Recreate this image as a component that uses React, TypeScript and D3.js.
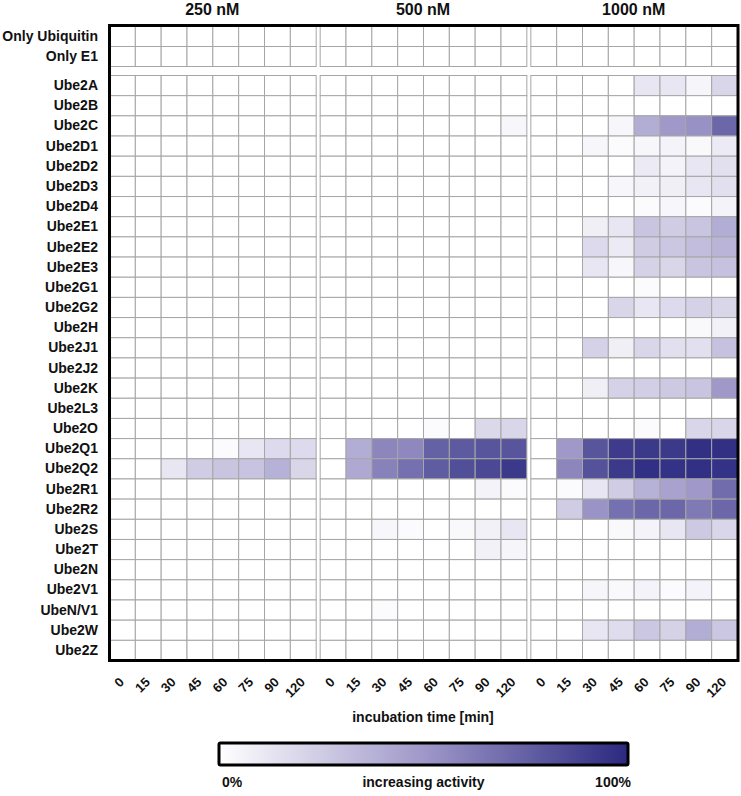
import React from "react";
import * as d3 from "d3";

const concentrations = ["250 nM", "500 nM", "1000 nM"];
const times = ["0", "15", "30", "45", "60", "75", "90", "120"];
const controlRows = ["Only Ubiquitin", "Only E1"];
const enzymeRows = [
  "Ube2A", "Ube2B", "Ube2C", "Ube2D1", "Ube2D2", "Ube2D3", "Ube2D4", "Ube2E1", "Ube2E2", "Ube2E3",
  "Ube2G1", "Ube2G2", "Ube2H", "Ube2J1", "Ube2J2", "Ube2K", "Ube2L3", "Ube2O", "Ube2Q1", "Ube2Q2",
  "Ube2R1", "Ube2R2", "Ube2S", "Ube2T", "Ube2N", "Ube2V1", "UbeN/V1", "Ube2W", "Ube2Z",
];

// activity (0..1) per enzyme row, columns = times
const activity250: number[][] = [
  [0, 0, 0, 0, 0, 0, 0, 0], // 2A
  [0, 0, 0, 0, 0, 0, 0, 0], // 2B
  [0, 0, 0, 0, 0, 0, 0, 0], // 2C
  [0, 0, 0, 0, 0, 0, 0, 0], // 2D1
  [0, 0, 0, 0, 0, 0, 0, 0], // 2D2
  [0, 0, 0, 0, 0, 0, 0, 0], // 2D3
  [0, 0, 0, 0, 0, 0, 0, 0], // 2D4
  [0, 0, 0, 0, 0, 0, 0, 0], // 2E1
  [0, 0, 0, 0, 0, 0, 0, 0], // 2E2
  [0, 0, 0, 0, 0, 0, 0, 0], // 2E3
  [0, 0, 0, 0, 0, 0, 0, 0], // 2G1
  [0, 0, 0, 0, 0, 0, 0, 0], // 2G2
  [0, 0, 0, 0, 0, 0, 0, 0], // 2H
  [0, 0, 0, 0, 0, 0, 0, 0], // 2J1
  [0, 0, 0, 0, 0, 0, 0, 0], // 2J2
  [0, 0, 0, 0, 0, 0, 0, 0], // 2K
  [0, 0, 0, 0, 0, 0, 0, 0], // 2L3
  [0, 0, 0, 0, 0, 0, 0, 0], // 2O
  [0, 0, 0, 0, 0.02, 0.12, 0.18, 0.18], // 2Q1
  [0, 0, 0.12, 0.25, 0.28, 0.29, 0.38, 0.2], // 2Q2
  [0, 0, 0, 0, 0, 0, 0, 0], // 2R1
  [0, 0, 0, 0, 0, 0, 0, 0], // 2R2
  [0, 0, 0, 0, 0, 0, 0, 0], // 2S
  [0, 0, 0, 0, 0, 0, 0, 0], // 2T
  [0, 0, 0, 0, 0, 0, 0, 0], // 2N
  [0, 0, 0, 0, 0, 0, 0, 0], // 2V1
  [0, 0, 0, 0, 0, 0, 0, 0], // N/V1
  [0, 0, 0, 0, 0, 0, 0, 0], // 2W
  [0, 0, 0, 0, 0, 0, 0, 0], // 2Z
];

const activity500: number[][] = [
  [0, 0, 0, 0, 0, 0, 0, 0], // 2A
  [0, 0, 0, 0, 0, 0, 0, 0], // 2B
  [0, 0, 0, 0, 0, 0, 0, 0.04], // 2C
  [0, 0, 0, 0, 0, 0, 0, 0], // 2D1
  [0, 0, 0, 0, 0, 0, 0, 0], // 2D2
  [0, 0, 0, 0, 0, 0, 0, 0], // 2D3
  [0, 0, 0, 0, 0, 0, 0, 0], // 2D4
  [0, 0, 0, 0, 0, 0, 0, 0], // 2E1
  [0, 0, 0, 0, 0, 0, 0, 0], // 2E2
  [0, 0, 0, 0, 0, 0, 0, 0], // 2E3
  [0, 0, 0, 0, 0, 0, 0, 0], // 2G1
  [0, 0, 0, 0, 0, 0, 0, 0], // 2G2
  [0, 0, 0, 0, 0, 0, 0, 0], // 2H
  [0, 0, 0, 0, 0, 0, 0, 0], // 2J1
  [0, 0, 0, 0, 0, 0, 0, 0], // 2J2
  [0, 0, 0, 0, 0, 0, 0, 0], // 2K
  [0, 0, 0, 0, 0, 0, 0, 0], // 2L3
  [0, 0, 0, 0, 0.02, 0, 0.19, 0.2], // 2O
  [0, 0.4, 0.58, 0.57, 0.75, 0.78, 0.8, 0.8], // 2Q1
  [0, 0.42, 0.6, 0.68, 0.77, 0.83, 0.86, 0.93], // 2Q2
  [0, 0, 0, 0, 0, 0, 0.06, 0.02], // 2R1
  [0, 0, 0, 0, 0, 0, 0, 0], // 2R2
  [0, 0, 0.04, 0.02, 0, 0.03, 0.07, 0.12], // 2S
  [0, 0, 0, 0, 0, 0, 0.07, 0.05], // 2T
  [0, 0, 0, 0, 0, 0, 0, 0], // 2N
  [0, 0, 0, 0, 0, 0, 0, 0], // 2V1
  [0, 0, 0.02, 0, 0, 0, 0, 0], // N/V1
  [0, 0, 0, 0, 0, 0, 0, 0], // 2W
  [0, 0, 0, 0, 0, 0, 0, 0], // 2Z
];

const activity1000: number[][] = [
  [0, 0, 0, 0, 0.12, 0.12, 0.05, 0.2], // 2A
  [0, 0, 0, 0, 0, 0, 0, 0], // 2B
  [0, 0, 0, 0.04, 0.4, 0.5, 0.53, 0.72], // 2C
  [0, 0, 0.04, 0.02, 0.04, 0.06, 0.03, 0.1], // 2D1
  [0, 0, 0, 0, 0.1, 0.06, 0.12, 0.15], // 2D2
  [0, 0, 0, 0.04, 0.07, 0.08, 0.12, 0.15], // 2D3
  [0, 0, 0, 0, 0.02, 0.04, 0.02, 0.06], // 2D4
  [0, 0, 0.08, 0.12, 0.28, 0.25, 0.28, 0.4], // 2E1
  [0, 0, 0.18, 0.1, 0.25, 0.27, 0.32, 0.36], // 2E2
  [0, 0, 0.12, 0.04, 0.22, 0.2, 0.28, 0.3], // 2E3
  [0, 0, 0, 0, 0.02, 0, 0, 0], // 2G1
  [0, 0, 0, 0.2, 0.12, 0.18, 0.22, 0.2], // 2G2
  [0, 0, 0, 0, 0, 0, 0.03, 0.07], // 2H
  [0, 0, 0.22, 0.08, 0.2, 0.15, 0.15, 0.3], // 2J1
  [0, 0, 0, 0, 0, 0, 0, 0], // 2J2
  [0, 0, 0.08, 0.22, 0.24, 0.26, 0.28, 0.5], // 2K
  [0, 0, 0, 0, 0, 0, 0, 0], // 2L3
  [0, 0, 0, 0, 0.02, 0, 0.2, 0.2], // 2O
  [0, 0.5, 0.8, 0.92, 0.93, 0.93, 0.97, 0.97], // 2Q1
  [0, 0.58, 0.82, 0.93, 0.97, 0.96, 0.97, 0.96], // 2Q2
  [0, 0.02, 0.12, 0.25, 0.38, 0.45, 0.5, 0.7], // 2R1
  [0, 0.25, 0.52, 0.68, 0.72, 0.72, 0.64, 0.72], // 2R2
  [0, 0, 0, 0.03, 0.06, 0.12, 0.26, 0.2], // 2S
  [0, 0, 0, 0, 0, 0, 0, 0], // 2T
  [0, 0, 0, 0, 0, 0, 0, 0], // 2N
  [0, 0, 0.05, 0.03, 0.06, 0.02, 0.06, 0], // 2V1
  [0, 0, 0, 0, 0, 0, 0, 0], // N/V1
  [0, 0, 0.12, 0.17, 0.27, 0.22, 0.4, 0.27], // 2W
  [0, 0, 0, 0, 0, 0, 0, 0], // 2Z
];

const controlActivity: number[][] = [
  [0, 0, 0, 0, 0, 0, 0, 0],
  [0, 0, 0, 0, 0, 0, 0, 0],
];

const legendLabels = ["0%", "increasing activity", "100%"];

const panelData = [activity250, activity500, activity1000];

const W = 741;
const H = 796;
const FONT = "'Liberation Sans', Arial, Helvetica, sans-serif";

export default function App() {
  const left = 109;
  const right = 737;
  const gap = 4;
  const panelW = (right - left - 2 * gap) / 3;

  const color = d3
    .scaleLinear<string>()
    .domain([0, 0.5, 1])
    .range(["#ffffff", "#9f98c9", "#2b2980"])
    .interpolate(d3.interpolateRgb)
    .clamp(true);

  const xPanels = concentrations.map((_, i) =>
    d3
      .scaleBand<string>()
      .domain(times)
      .range([left + i * (panelW + gap), left + i * (panelW + gap) + panelW])
  );

  const yControl = d3.scaleBand<string>().domain(controlRows).range([26, 66]);
  const yEnzyme = d3.scaleBand<string>().domain(enzymeRows).range([75, 660]);

  const gridStroke = "#a6a6a6";

  const legendX = d3.scaleLinear().domain([0, 1]).range([219, 628]);
  const stops = d3.range(0, 1.0001, 0.05);

  const cells: React.ReactNode[] = [];
  concentrations.forEach((c, pi) => {
    const x = xPanels[pi];
    controlRows.forEach((r, ri) => {
      times.forEach((t, ti) => {
        cells.push(
          <rect
            key={`c-${pi}-${ri}-${ti}`}
            x={x(t)! + 0.5}
            y={yControl(r)! + 0.5}
            width={x.bandwidth()}
            height={yControl.bandwidth()}
            fill={color(controlActivity[ri][ti])}
            stroke={gridStroke}
            strokeWidth={1}
          />
        );
      });
    });
    enzymeRows.forEach((r, ri) => {
      times.forEach((t, ti) => {
        cells.push(
          <rect
            key={`e-${pi}-${ri}-${ti}`}
            x={x(t)! + 0.5}
            y={yEnzyme(r)! + 0.5}
            width={x.bandwidth()}
            height={yEnzyme.bandwidth()}
            fill={color(panelData[pi][ri][ti])}
            stroke={gridStroke}
            strokeWidth={1}
          />
        );
      });
    });
  });

  return (
    <svg width={W} height={H} style={{ display: "block", position: "absolute", left: 0, top: 0 }}>
      <defs>
        <linearGradient id="actGrad" x1="0" x2="1" y1="0" y2="0">
          {stops.map((s) => (
            <stop key={s} offset={`${s * 100}%`} stopColor={color(s)} />
          ))}
        </linearGradient>
      </defs>
      <rect x={0} y={0} width={W} height={H} fill="#ffffff" />
      {cells}
      <rect x={109.5} y={25.5} width={628.5} height={635} fill="none" stroke="#000" strokeWidth={3} />

      {concentrations.map((c, pi) => (
        <text
          key={c}
          x={xPanels[pi].range()[0] + panelW / 2}
          y={15}
          textAnchor="middle"
          fontFamily={FONT}
          fontWeight="bold"
          fontSize={16}
          fill="#111"
        >
          {c}
        </text>
      ))}

      {controlRows.map((r) => (
        <text
          key={r}
          x={98}
          y={yControl(r)! + yControl.bandwidth() / 2}
          dy="0.36em"
          textAnchor="end"
          fontFamily={FONT}
          fontWeight="bold"
          fontSize={14}
          fill="#111"
        >
          {r}
        </text>
      ))}
      {enzymeRows.map((r) => (
        <text
          key={r}
          x={98}
          y={yEnzyme(r)! + yEnzyme.bandwidth() / 2}
          dy="0.36em"
          textAnchor="end"
          fontFamily={FONT}
          fontWeight="bold"
          fontSize={14}
          fill="#111"
        >
          {r}
        </text>
      ))}

      {concentrations.map((c, pi) =>
        times.map((t) => {
          const cx = xPanels[pi](t)! + xPanels[pi].bandwidth() / 2 + 3;
          const cy = 683;
          return (
            <text
              key={`${c}-${t}`}
              transform={`translate(${cx},${cy}) rotate(-45)`}
              textAnchor="end"
              fontFamily={FONT}
              fontWeight="bold"
              fontSize={13}
              fill="#111"
            >
              {t}
            </text>
          );
        })
      )}

      <text
        x={(left + right) / 2}
        y={722}
        textAnchor="middle"
        fontFamily={FONT}
        fontWeight="bold"
        fontSize={14}
        fill="#111"
      >
        incubation time [min]
      </text>

      <rect
        x={legendX(0)}
        y={743}
        width={legendX(1) - legendX(0)}
        height={22}
        fill="url(#actGrad)"
        stroke="#000"
        strokeWidth={3}
        rx={1.5}
      />
      <text x={232} y={787} textAnchor="middle" fontFamily={FONT} fontWeight="bold" fontSize={14} fill="#111">
        {legendLabels[0]}
      </text>
      <text x={(legendX(0) + legendX(1)) / 2} y={787} textAnchor="middle" fontFamily={FONT} fontWeight="bold" fontSize={14} fill="#111">
        {legendLabels[1]}
      </text>
      <text x={613} y={787} textAnchor="middle" fontFamily={FONT} fontWeight="bold" fontSize={14} fill="#111">
        {legendLabels[2]}
      </text>
    </svg>
  );
}
